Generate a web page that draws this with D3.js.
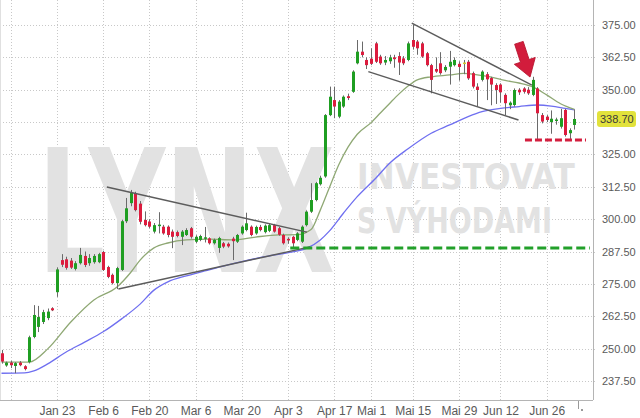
<!DOCTYPE html>
<html>
<head>
<meta charset="utf-8">
<script src="https://cdn.jsdelivr.net/npm/d3@7"></script>
<style>
body{margin:0;background:#fff;}
svg{display:block;font-family:"Liberation Sans",Arial,sans-serif;}
</style>
</head>
<body>
<svg id="chart" width="640" height="418"></svg>
<script>
// daily candles, Jan - Jul
var opens = [248.2,243.5,244.6,243.3,244.6,243.2,244.8,254.5,258.4,260.3,261.8,265.6,271.8,284.2,284.5,284.0,280.8,283.0,285.8,283.0,
 283.4,283.4,287.3,281.5,278.5,275.3,280.4,299.2,306.2,310.1,306.0,299.7,299.1,295.2,297.5,297.1,297.1,295.2,295.0,293.2,
 293.9,296.5,291.3,292.0,292.8,292.6,290.7,288.9,290.7,290.5,292.5,291.3,294.5,295.8,297.1,294.5,297.0,295.0,295.5,297.7,
 296.5,293.9,292.4,293.2,292.0,291.3,297.7,302.9,307.4,313.5,316.5,340.2,346.0,339.6,343.5,347.5,349.2,360.2,364.7,361.5,
 362.0,367.9,362.8,360.5,361.0,362.5,363.0,362.1,361.5,369.2,368.6,367.9,364.1,359.5,358.0,360.2,357.5,358.9,359.5,360.0,
 360.5,360.8,356.4,351.2,353.8,356.0,354.5,351.8,352.0,348.0,344.0,344.1,350.0,350.5,350.0,348.0,350.5,340.2,339.6,337.5,
 338.0,335.7,342.2,333.2,336.4];
var highs = [249.5,245.0,245.3,244.8,245.2,243.6,255.0,266.8,266.5,265.0,265.5,266.0,281.4,286.5,285.5,285.0,283.8,288.9,287.5,286.5,
 286.5,287.0,287.8,282.0,279.0,281.6,299.8,308.2,311.3,310.6,307.0,303.0,300.0,298.5,302.7,297.8,297.6,296.0,295.6,295.8,
 296.5,297.0,293.8,294.0,297.0,293.0,292.5,293.2,291.2,291.0,293.2,294.3,297.6,302.5,297.6,297.5,297.8,298.0,298.2,298.2,
 297.0,294.4,293.0,293.6,295.0,297.6,303.4,313.9,314.4,316.8,340.6,351.2,351.2,346.0,347.8,348.5,357.5,369.2,368.6,362.5,
 366.0,368.5,363.5,363.0,363.5,363.5,364.5,363.0,368.6,375.0,369.2,368.5,364.6,360.0,362.5,364.5,359.5,365.0,362.5,361.0,
 361.5,361.5,357.0,352.5,357.5,356.8,355.0,352.5,352.5,348.6,345.5,350.5,350.6,351.0,351.0,355.0,351.0,341.0,340.2,342.0,
 339.2,342.6,342.6,335.1,342.4];
var lows = [244.2,243.0,242.5,240.5,243.2,241.6,244.3,254.0,256.4,259.5,261.0,264.5,270.0,281.5,280.5,280.8,280.2,282.5,281.5,282.0,
 282.8,283.0,280.0,277.2,274.8,273.0,280.0,298.5,305.0,303.0,298.0,297.2,296.5,294.5,294.5,294.0,293.0,288.8,293.0,290.0,
 293.5,292.5,290.8,291.5,291.0,290.2,290.2,287.0,288.8,289.0,284.2,290.8,294.0,295.3,293.4,294.0,295.3,294.5,295.0,294.8,
 293.6,290.2,290.5,288.8,291.5,290.8,297.2,302.4,306.9,313.0,316.0,339.8,339.0,339.0,343.0,346.0,348.8,359.8,362.5,358.0,
 359.5,360.3,359.6,359.5,360.0,358.5,355.7,359.5,361.0,365.5,363.5,362.3,359.0,348.6,356.5,355.8,356.8,352.0,359.0,353.5,
 356.0,353.8,350.5,343.5,353.2,346.0,344.0,344.5,345.0,340.2,342.5,343.5,348.0,348.5,348.0,347.5,330.6,337.0,337.5,333.0,
 336.5,335.0,331.9,330.5,334.6];
var closes = [245.0,244.6,243.6,244.4,243.6,242.1,254.4,263.0,262.2,264.1,264.3,264.8,280.6,282.4,281.2,281.3,283.0,286.2,282.3,285.0,
 285.8,286.5,280.4,277.7,275.3,281.1,299.2,304.2,310.1,303.5,299.0,297.7,297.1,297.7,297.9,294.5,293.9,293.2,293.5,295.2,
 295.8,293.2,293.2,293.5,293.0,290.7,292.0,292.7,289.4,289.5,291.5,293.9,297.1,298.4,293.9,297.0,295.8,297.5,297.7,295.2,
 294.0,290.7,291.8,290.7,294.5,297.1,302.9,307.4,313.9,316.0,340.2,347.3,343.5,345.4,347.3,346.8,357.0,364.7,363.4,359.5,
 360.0,360.8,360.2,361.5,362.5,361.8,360.5,360.2,367.9,366.6,366.0,362.8,359.5,353.8,357.0,356.4,358.8,360.8,361.5,358.8,
 360.5,354.4,351.2,349.9,357.0,354.0,352.0,349.9,349.0,344.8,345.0,349.9,349.0,349.2,348.6,353.8,340.9,337.7,338.3,338.8,
 338.5,339.0,332.5,334.4,338.7];

// moving averages, read at candle indexes
var greenIdx = [0,6,10,15,20,25,28,30,33,36,40,45,50,55,60,64,67,69,71,73,75,77,80,82,84,86,88,90,93,97,100,103,106,109,112,115,118,121,124];
var greenVal = [244.8,244.8,249.9,260.3,268.8,273.8,279.5,284.2,288.9,290.8,292.0,292.3,292.0,293.1,293.9,294.0,296.0,303.5,312.3,321.0,327.8,332.8,337.3,341.0,344.7,348.3,351.4,353.8,355.0,355.7,356.3,355.7,354.9,353.6,352.6,351.1,348.0,344.6,342.4];
var blueIdx = [0,5,7,10,14,18,22,26,30,33,36,40,44,48,52,57,63,66,69,71,74,77,81,84,88,93,97,101,104,108,112,116,119,122,124];
var blueVal = [240.5,240.6,241.4,244.1,248.7,252.5,256.5,261.5,267.2,272.6,275.8,278.1,280.0,281.9,283.6,285.5,287.4,288.7,292.0,295.5,302.3,308.7,315.8,321.6,327.2,333.2,336.4,339.6,341.5,342.8,343.5,344.1,343.7,342.8,342.2];

// trend lines: [index1, value1, index2, value2]
var trendLines = [[22.8,312.4,66.1,295.0],[25.3,273.0,66.8,289.3],[88.8,375.7,114.8,351.8],[79.4,357.0,111.9,338.3]];
var supportLevel = 288.9;
var bottomLevel = 330.6;
var lastPrice = 338.70;

var tickIdx = [2,12,22,32,42,52,62,72,80,89,99,108,118];
var tickLabels = ["","Jan 23","Feb 6","Feb 20","Mar 6","Mar 20","Apr 3","Apr 17","Mai 1","Mai 15","Mai 29","Jun 12","Jun 26"];
var yTicks = [237.5,250,262.5,275,287.5,300,312.5,325,337.5,350,362.5,375];

var svg = d3.select("#chart");
var plotRight = 593, plotBottom = 400;
var x = d3.scaleLinear().domain([0,124]).range([1.5,574.4]);
var y = d3.scaleLinear().domain([237.5,375]).range([381,25]);

// grid
svg.append("g").selectAll("line").data(yTicks).enter().append("line")
	.attr("x1",0).attr("x2",597)
	.attr("y1",function(d){return Math.round(y(d))+0.5;})
	.attr("y2",function(d){return Math.round(y(d))+0.5;})
	.attr("stroke","#c8c8c8").attr("stroke-dasharray","1,2");
svg.append("g").selectAll("line").data(tickIdx).enter().append("line")
	.attr("x1",function(d){return Math.round(x(d))+0.5;})
	.attr("x2",function(d){return Math.round(x(d))+0.5;})
	.attr("y1",0).attr("y2",plotBottom)
	.attr("stroke","#c8c8c8").attr("stroke-dasharray","1,2");

// watermark, squeezed to width with a transform
var wm = svg.append("g").attr("font-family","'DejaVu Sans',sans-serif").attr("font-weight","bold").attr("fill","#e2e2e2");
function mark(txt, px, py, size, w){
	var t = wm.append("text").attr("font-size",size).text(txt);
	var len = t.node().getComputedTextLength();
	t.attr("transform","translate(" + px + "," + py + ") scale(" + (w/len) + ",1)");
}
mark("LYNX",38,272,172,297);
mark("INVESTOVAT",357,189,35,218);
mark("S VÝHODAMI",357,233,35,195);

// axes frame
svg.append("line").attr("x1",plotRight+0.5).attr("x2",plotRight+0.5).attr("y1",0).attr("y2",plotBottom)
	.attr("stroke","#b4b4b4");
svg.append("line").attr("x1",0).attr("x2",plotRight).attr("y1",plotBottom+0.5).attr("y2",plotBottom+0.5)
	.attr("stroke","#b4b4b4");
svg.append("line").attr("x1",0.5).attr("x2",0.5).attr("y1",0).attr("y2",plotBottom)
	.attr("stroke","#e0e0e0");

// 337.50 sits under the last price badge
var yAxis = svg.append("g").attr("transform","translate(" + plotRight + ",0)")
	.call(d3.axisRight(y).tickValues(yTicks).tickSize(0).tickPadding(9)
		.tickFormat(function(d){return d == 337.5 ? "" : d3.format(".2f")(d);}));
yAxis.select(".domain").remove();
yAxis.selectAll("text").attr("fill","#5a5a5a").attr("font-size",11).attr("font-family","'Liberation Sans',Arial,sans-serif");

var xAxis = svg.append("g").attr("transform","translate(0," + plotBottom + ")")
	.call(d3.axisBottom(x).tickValues(tickIdx).tickSize(0).tickPadding(6)
		.tickFormat(function(d,i){return tickLabels[i];}));
xAxis.select(".domain").remove();
xAxis.selectAll("text").attr("fill","#5a5a5a").attr("font-size",12).attr("font-family","'Liberation Sans',Arial,sans-serif");
svg.append("line").attr("x1",578.5).attr("x2",578.5).attr("y1",401).attr("y2",409).attr("stroke","#999");
svg.append("circle").attr("cx",582).attr("cy",410).attr("r",1).attr("fill","#777");

// moving averages
function maLine(idx, vals){
	return d3.line().curve(d3.curveMonotoneX)
		.x(function(d){return x(d);})
		.y(function(d,i){return y(vals[i]);})(idx);
}
svg.append("path").attr("d",maLine(blueIdx,blueVal)).attr("fill","none")
	.attr("stroke","#6f6ff0").attr("stroke-width",1.3);
svg.append("path").attr("d",maLine(greenIdx,greenVal)).attr("fill","none")
	.attr("stroke","#8fa874").attr("stroke-width",1.3);

// candles
var candles = opens.map(function(o,i){return {i:i,o:o,h:highs[i],l:lows[i],c:closes[i]};});
function candleColor(d){
	if(d.c > d.o) return "#1f9e22";
	if(d.c < d.o) return "#dc1c3e";
	return "#d8c82c";
}
var cg = svg.append("g");
cg.selectAll("line").data(candles).enter().append("line")
	.attr("x1",function(d){return Math.round(x(d.i))+0.5;})
	.attr("x2",function(d){return Math.round(x(d.i))+0.5;})
	.attr("y1",function(d){return y(d.h);})
	.attr("y2",function(d){return y(d.l);})
	.attr("stroke","#6a6a6a").attr("stroke-width",1);
cg.selectAll("rect").data(candles).enter().append("rect")
	.attr("x",function(d){return Math.round(x(d.i))-1;})
	.attr("width",3)
	.attr("y",function(d){return y(Math.max(d.o,d.c));})
	.attr("height",function(d){return Math.max(1.5,Math.abs(y(d.o)-y(d.c)));})
	.attr("fill",candleColor);

// trend lines
svg.append("g").selectAll("line").data(trendLines).enter().append("line")
	.attr("x1",function(d){return x(d[0]);}).attr("y1",function(d){return y(d[1]);})
	.attr("x2",function(d){return x(d[2]);}).attr("y2",function(d){return y(d[3]);})
	.attr("stroke","#5c5c5c").attr("stroke-width",1.5);

// levels
svg.append("line").attr("x1",x(62.5)).attr("x2",590)
	.attr("y1",y(supportLevel)).attr("y2",y(supportLevel))
	.attr("stroke","#22a02a").attr("stroke-width",3).attr("stroke-dasharray","9,4");
svg.append("line").attr("x1",x(113.3)).attr("x2",586)
	.attr("y1",y(bottomLevel)).attr("y2",y(bottomLevel))
	.attr("stroke","#d41e3e").attr("stroke-width",3).attr("stroke-dasharray","7,3");

// arrow
var ax = x(114.4), ay = y(354.9);
svg.append("path")
	.attr("transform","translate(" + ax + "," + ay + ") rotate(-18)")
	.attr("d","M0,0 L-11,-17 L-4.5,-17 L-4.5,-36 L4.5,-36 L4.5,-17 L11,-17 Z")
	.attr("fill","#d21c3c").attr("stroke","#b8142f").attr("stroke-width",0.8);

// last price label
svg.append("rect").attr("x",597).attr("y",y(lastPrice)-8).attr("width",39).attr("height",16).attr("rx",3)
	.attr("fill","#e2e23c");
svg.append("text").attr("x",600).attr("y",y(lastPrice)+4).attr("font-size",11).attr("fill","#3a3a3a")
	.text(lastPrice.toFixed(2));
</script>
</body>
</html>
